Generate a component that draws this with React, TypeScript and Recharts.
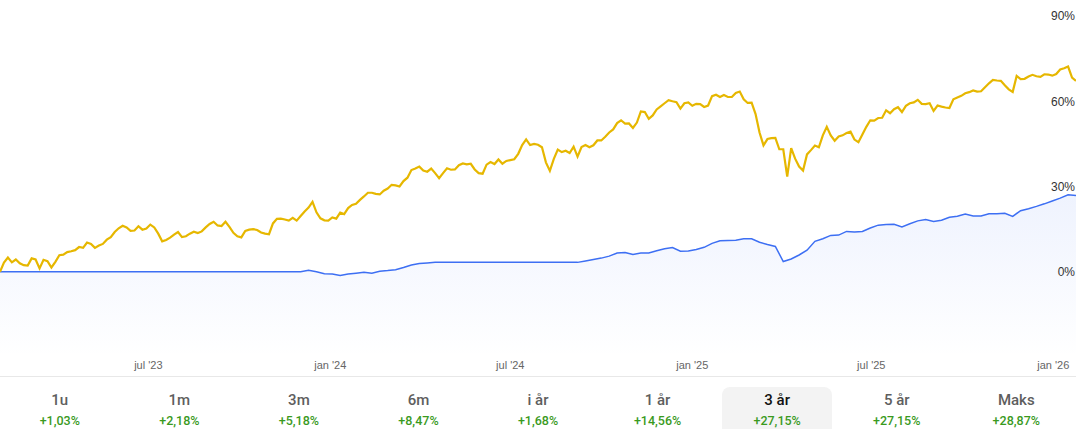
import React from "react";
import { Area, ComposedChart, Line, XAxis, YAxis } from "recharts";

const START = Date.UTC(2023, 1, 1);
const DAY = 86400000;

// index (yellow), one value every 4 days
const indexValues = [
  0, 3.2, 5.0, 3.3, 4.3, 3.0, 2.3, 2.2, 4.7, 4.3,
  1.2, 4.2, 3.7, 1.5, 3.5, 5.8, 6.0, 6.9, 7.2, 7.6,
  8.7, 8.4, 10.3, 9.8, 8.4, 9.2, 9.8, 11.3, 12.2, 14.0,
  15.3, 16.2, 15.6, 14.4, 14.5, 16.0, 14.8, 15.2, 16.6, 15.6,
  13.4, 10.7, 11.2, 12.0, 13.1, 14.0, 12.2, 12.5, 13.4, 14.1,
  13.6, 14.2, 15.6, 16.8, 17.6, 16.3, 16.1, 17.6, 15.8, 13.7,
  12.5, 12.1, 14.4, 14.8, 15.0, 14.7, 13.8, 13.4, 13.2, 17.0,
  18.6, 18.7, 18.4, 18.0, 19.0, 18.0, 19.6, 21.2, 22.6, 24.6,
  20.9, 18.8, 18.1, 18.0, 19.1, 18.7, 20.8, 20.3, 22.4, 23.5,
  23.9, 25.3, 26.5, 27.8, 27.8, 27.4, 27.2, 28.5, 29.3, 30.6,
  30.4, 30.0, 31.9, 33.1, 35.8, 36.3, 37.0, 35.6, 35.2, 36.3,
  34.7, 32.9, 34.7, 36.4, 35.9, 36.0, 37.5, 38.1, 37.8, 38.0,
  36.0, 34.7, 34.5, 37.7, 38.6, 37.9, 39.5, 38.0, 39.0, 39.3,
  39.6, 41.5, 44.6, 46.6, 44.6, 45.0, 44.7, 43.8, 38.5, 35.5,
  39.7, 43.0, 42.1, 42.6, 41.8, 44.0, 40.5, 43.9, 44.6, 43.8,
  44.5, 46.2, 46.2, 47.5, 49.0, 50.1, 52.3, 53.3, 52.1, 52.2,
  50.6, 52.5, 56.4, 56.2, 53.8, 55.0, 57.1, 58.2, 59.3, 60.4,
  60.0, 59.7, 57.4, 59.3, 59.6, 58.4, 59.1, 59.0, 58.0, 58.5,
  61.8, 62.3, 61.5, 62.2, 61.5, 61.5, 62.9, 63.4, 60.7, 59.4,
  59.5, 55.5, 49.0, 44.5, 46.7, 47.0, 47.1, 43.1, 43.1, 33.5,
  43.5, 39.8, 37.0, 35.6, 41.3, 42.8, 44.4, 43.8, 48.0, 51.0,
  48.0, 46.1, 47.6, 48.0, 48.8, 49.3, 46.5, 45.6, 48.3, 51.0,
  53.3, 53.2, 54.1, 54.2, 56.8, 55.8, 57.2, 57.9, 56.2, 58.4,
  59.3, 59.6, 60.5, 59.1, 59.0, 59.3, 56.6, 58.5, 58.1, 57.8,
  57.6, 60.7, 61.3, 61.9, 62.8, 63.2, 63.8, 63.4, 63.5, 64.9,
  66.3, 67.5, 67.3, 67.2, 65.6, 64.2, 63.3, 68.9, 67.8, 67.9,
  68.7, 69.3, 68.8, 68.6, 69.5, 69.4, 69.0, 69.6, 71.2, 71.6,
  72.2, 68.3, 67.2,
];

// fund (blue), one value every 8 days
const fundValues = [
  0, 0, 0, 0, 0, 0, 0, 0, 0, 0,
  0, 0, 0, 0, 0, 0, 0, 0, 0, 0,
  0, 0, 0, 0, 0, 0, 0, 0, 0, 0,
  0, 0, 0, 0, 0, 0, 0, 0, 0, 0.5,
  0.0, -0.7, -0.8, -1.3, -0.8, -0.5, -0.2, -0.5, 0.2, 0.4,
  0.7, 1.5, 2.4, 2.9, 3.1, 3.3, 3.3, 3.3, 3.3, 3.3,
  3.3, 3.3, 3.3, 3.3, 3.3, 3.3, 3.3, 3.3, 3.3, 3.3,
  3.3, 3.3, 3.3, 3.3, 3.8, 4.3, 4.8, 5.5, 6.6, 6.8,
  6.1, 6.6, 6.6, 7.4, 8.1, 8.5, 7.2, 7.3, 7.8, 8.6,
  10.0, 10.9, 11.0, 11.1, 11.6, 11.6, 10.4, 9.6, 8.9, 3.6,
  4.5, 5.9, 7.6, 10.7, 11.6, 12.8, 12.9, 14.2, 14.0, 14.2,
  15.4, 16.4, 16.6, 16.7, 15.8, 16.9, 17.9, 18.4, 17.7, 18.1,
  19.2, 19.5, 20.3, 19.6, 19.6, 20.4, 20.4, 20.6, 19.5, 21.5,
  22.2, 23.0, 23.9, 24.9, 25.9, 27.1, 26.8,
];

const tickDates = ["2023-07-01", "2024-01-01", "2024-07-01", "2025-01-01", "2025-07-01", "2026-01-01"];
const tickLabels = ["jul '23", "jan '24", "jul '24", "jan '25", "jul '25", "jan '26"];
const yTicks = [0, 30, 60, 90];

const periods = ["1u", "1m", "3m", "6m", "i år", "1 år", "3 år", "5 år", "Maks"];
const periodReturns = ["+1,03%", "+2,18%", "+5,18%", "+8,47%", "+1,68%", "+14,56%", "+27,15%", "+27,15%", "+28,87%"];
const selectedPeriod = "3 år";

const xTicks = tickDates.map((d) => Math.round((Date.parse(d) - START) / DAY));

const data = indexValues.map((v, i) => ({
  day: i * 4,
  index: v,
  fund: i % 2 === 0 ? fundValues[i / 2] : undefined,
}));

const FONT = '"Liberation Sans", Arial, sans-serif';
const TAB_FONT = 'Roboto, "Liberation Sans", Arial, sans-serif';

export default function App() {
  return (
    <div style={{ width: 1076, fontFamily: FONT, background: "#fff" }}>
      <style>{`body{margin:0}`}</style>
      <ComposedChart
        width={1076}
        height={376}
        data={data}
        margin={{ top: 16, right: 0, bottom: 0, left: 0 }}
      >
        <defs>
          <linearGradient id="fundFill" x1="0" y1="0" x2="0" y2="1">
            <stop offset="0%" stopColor="#3d6ff3" stopOpacity={0.14} />
            <stop offset="100%" stopColor="#3d6ff3" stopOpacity={0} />
          </linearGradient>
        </defs>
        <XAxis
          dataKey="day"
          type="number"
          domain={[0, 1088]}
          ticks={xTicks}
          tickFormatter={(v) => tickLabels[xTicks.indexOf(v)] ?? ""}
          axisLine={false}
          tickLine={false}
          tickSize={0}
          tickMargin={4}
          height={19}
          fontSize={11}
          tick={{ fill: "#666" }}
        />
        <YAxis
          orientation="right"
          mirror
          width={40}
          domain={[-30, 90]}
          ticks={yTicks}
          tickFormatter={(v) => `${v}%`}
          axisLine={false}
          tickLine={false}
          tickSize={0}
          tickMargin={1}
          fontSize={12}
          tick={{ fill: "#333" }}
        />
        <Area
          type="linear"
          dataKey="fund"
          stroke="#3d6ff3"
          strokeWidth={1.5}
          fill="url(#fundFill)"
          baseValue="dataMin"
          connectNulls
          dot={false}
          activeDot={false}
          isAnimationActive={false}
        />
        <Line
          type="linear"
          dataKey="index"
          stroke="#e6b700"
          strokeWidth={2.2}
          dot={false}
          activeDot={false}
          isAnimationActive={false}
        />
      </ComposedChart>
      <div
        style={{
          borderTop: "1px solid #e8e8e8",
          display: "flex",
          paddingTop: 10,
          fontFamily: TAB_FONT,
        }}
      >
        {periods.map((p, i) => {
          const selected = p === selectedPeriod;
          return (
            <div key={p} style={{ flex: 1, padding: "0 5px" }}>
              <div
                style={{
                  height: 50,
                  borderRadius: 8,
                  background: selected ? "#f3f3f3" : "transparent",
                  textAlign: "center",
                  paddingTop: 4,
                  boxSizing: "border-box",
                }}
              >
                <div
                  style={{
                    fontSize: 15,
                    lineHeight: "18px",
                    fontWeight: 500,
                    color: selected ? "#111" : "#5e5e5e",
                  }}
                >
                  {p}
                </div>
                <div
                  style={{
                    fontSize: 12.5,
                    lineHeight: "16px",
                    marginTop: 4,
                    fontWeight: 500,
                    color: "#3a9a1e",
                  }}
                >
                  {periodReturns[i]}
                </div>
              </div>
            </div>
          );
        })}
      </div>
    </div>
  );
}
